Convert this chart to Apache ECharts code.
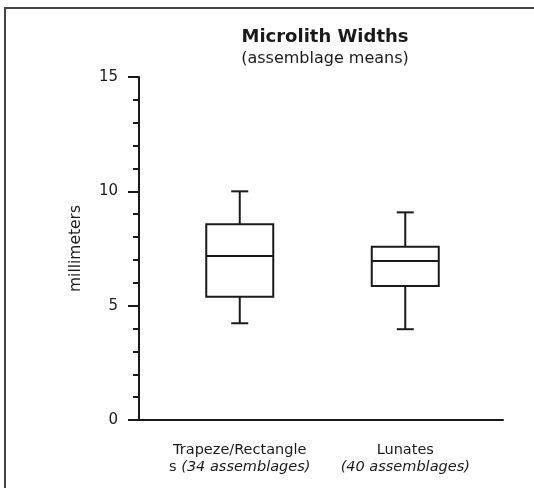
<!DOCTYPE html>
<html>
<head>
<meta charset="utf-8">
<script src="https://cdn.jsdelivr.net/npm/echarts@6/dist/echarts.min.js"></script>
<style>
  html, body { margin: 0; padding: 0; background: #fff; }
  #chart { width: 534px; height: 488px; }
</style>
</head>
<body>
<div id="chart"></div>
<script>
// ---- data ----
const categories = ['Trapeze/Rectangles', 'Lunates'];
const labelLine1 = ['Trapeze/Rectangle', 'Lunates'];
const labelLine2Plain = ['s', ''];
const assemblageCounts = [34, 40];
const lows = [4.23, 3.97];
const q1s = [5.39, 5.86];
const medians = [7.17, 6.95];
const q3s = [8.56, 7.58];
const highs = [10.0, 9.08];
const yTicks = [0, 5, 10, 15];

// ---- styles ----
const FONT = 'DejaVu Sans';
const INK = '#1a1a1a';
const BOX_W = 67;
const CAP_W = 17;

const boxData = categories.map((c, i) => [i, lows[i], q1s[i], medians[i], q3s[i], highs[i]]);

function renderItem(params, api) {
  const x = api.value(0);
  const pLow = api.coord([x, api.value(1)]);
  const pQ1 = api.coord([x, api.value(2)]);
  const pMed = api.coord([x, api.value(3)]);
  const pQ3 = api.coord([x, api.value(4)]);
  const pHigh = api.coord([x, api.value(5)]);
  const cx = pMed[0];
  const hw = BOX_W / 2, cw = CAP_W / 2;
  const st = { stroke: INK, lineWidth: 2, fill: null };
  return {
    type: 'group',
    children: [
      { type: 'line', shape: { x1: cx, y1: pQ3[1], x2: cx, y2: pHigh[1] }, style: st },
      { type: 'line', shape: { x1: cx, y1: pQ1[1], x2: cx, y2: pLow[1] }, style: st },
      { type: 'line', shape: { x1: cx - cw, y1: pHigh[1], x2: cx + cw, y2: pHigh[1] }, style: st },
      { type: 'line', shape: { x1: cx - cw, y1: pLow[1], x2: cx + cw, y2: pLow[1] }, style: st },
      { type: 'rect', shape: { x: cx - hw, y: pQ3[1], width: 2 * hw, height: pQ1[1] - pQ3[1] },
        style: { stroke: INK, lineWidth: 2, fill: '#fff' } },
      { type: 'line', shape: { x1: cx - hw, y1: pMed[1], x2: cx + hw, y2: pMed[1] }, style: st }
    ]
  };
}

const chart = echarts.init(document.getElementById('chart'), null, { renderer: 'canvas' });
chart.setOption({
  backgroundColor: '#fff',
  animation: false,
  title: {
    text: 'Microlith Widths',
    subtext: '(assemblage means)',
    left: 325,
    top: 28,
    padding: 0,
    textAlign: 'center',
    itemGap: 5,
    textStyle: { fontFamily: FONT, fontSize: 18, fontWeight: 'bold', color: INK },
    subtextStyle: { fontFamily: FONT, fontSize: 16, color: INK }
  },
  graphic: [{
    type: 'rect',
    shape: { x: 5, y: 8, width: 600, height: 600 },
    style: { stroke: '#444', lineWidth: 2, fill: null },
    silent: true
  }],
  grid: [
    { left: 139, right: 31, top: 77, bottom: 68 },
    { left: 157, right: 46, top: 77, bottom: 68 }
  ],
  xAxis: [
    {
      gridIndex: 0, type: 'value', min: 0, max: 1,
      axisLine: { show: true, lineStyle: { color: INK, width: 2 } },
      axisTick: { show: false }, axisLabel: { show: false }, splitLine: { show: false }
    },
    {
      gridIndex: 1, type: 'category', data: categories,
      axisLine: { show: false }, axisTick: { show: false }, splitLine: { show: false },
      axisLabel: {
        margin: 22,
        interval: 0,
        formatter: function (v, i) {
          const plain = labelLine2Plain[i] ? '{n|' + labelLine2Plain[i] + ' }' : '';
          return '{n|' + labelLine1[i] + '}\n' + plain + '{it|(' + assemblageCounts[i] + ' assemblages)}';
        },
        rich: {
          n: { fontFamily: FONT, fontSize: 14.5, color: INK, lineHeight: 17 },
          it: { fontFamily: FONT, fontSize: 14.5, fontStyle: 'italic', color: INK, lineHeight: 17 }
        }
      }
    }
  ],
  yAxis: [
    {
      gridIndex: 0, type: 'value', min: yTicks[0], max: yTicks[yTicks.length - 1], interval: 5,
      name: 'millimeters', nameLocation: 'middle', nameRotate: 90, nameGap: 55,
      nameTextStyle: { fontFamily: FONT, fontSize: 15.5, color: INK },
      axisLine: { show: true, lineStyle: { color: INK, width: 2 } },
      axisTick: { show: true, length: 11, lineStyle: { color: INK, width: 2 } },
      minorTick: { show: true, splitNumber: 5, length: 6, lineStyle: { color: INK, width: 2 } },
      axisLabel: { margin: 21, fontFamily: FONT, fontSize: 15, color: INK },
      splitLine: { show: false }
    },
    {
      gridIndex: 1, type: 'value', min: yTicks[0], max: yTicks[yTicks.length - 1], show: false
    }
  ],
  series: [{
    type: 'custom',
    xAxisIndex: 1,
    yAxisIndex: 1,
    renderItem: renderItem,
    encode: { x: 0, y: [1, 2, 3, 4, 5] },
    data: boxData
  }]
});
</script>
</body>
</html>
